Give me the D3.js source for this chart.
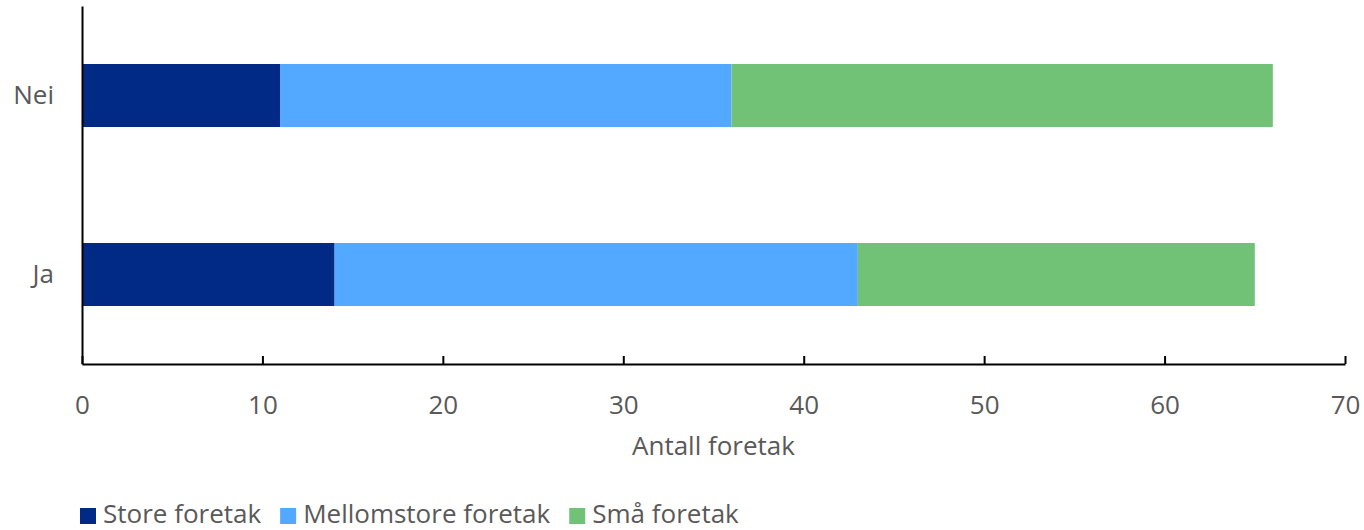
<!DOCTYPE html>
<html>
<head>
<meta charset="utf-8">
<script src="https://cdn.jsdelivr.net/npm/d3@7"></script>
<style>
  body { margin: 0; background: #fff; }
  text { font-family: "Open Sans", sans-serif; }
</style>
</head>
<body>
<svg id="chart"></svg>
<script>
// Data
const categories = ["Nei", "Ja"];
const seriesNames = ["Store foretak", "Mellomstore foretak", "Små foretak"];
const store = [11, 14];
const mellomstore = [25, 29];
const smaa = [30, 22];
const xTicks = [0, 10, 20, 30, 40, 50, 60, 70];
const colors = ["#002a86", "#52a9ff", "#71c277"];

const width = 1364, height = 530;
const margin = { top: 6, right: 19, bottom: 166, left: 82 };
const innerW = width - margin.left - margin.right,
    innerH = height - margin.top - margin.bottom;
const fontSize = "26px";

const svg = d3.select("#chart")
    .attr("width", width)
    .attr("height", height);

const g = svg.append("g")
    .attr("transform", `translate(${margin.left},${margin.top})`);

// Build stacked rows
const rows = categories.map((c, i) => ({
    cat: c,
    "Store foretak": store[i],
    "Mellomstore foretak": mellomstore[i],
    "Små foretak": smaa[i]
}));
const stacked = d3.stack().keys(seriesNames)(rows);

const x = d3.scaleLinear().domain([0, 70]).range([0, innerW]);
const y = d3.scaleBand()
    .domain(categories)
    .range([0, innerH])
    .paddingInner(0.648)
    .paddingOuter(0.324);

// Bars
g.selectAll(".series")
    .data(stacked)
    .enter().append("g")
    .attr("fill", (d, i) => colors[i])
    .selectAll("rect")
    .data(d => d)
    .enter().append("rect")
    .attr("x", d => x(d[0]))
    .attr("y", d => y(d.data.cat))
    .attr("width", d => x(d[1]) - x(d[0]))
    .attr("height", y.bandwidth());

// X axis (ticks pointing up)
const xAxis = g.append("g")
    .attr("transform", `translate(0,${innerH})`)
    .call(d3.axisBottom(x).tickValues(xTicks).tickSize(-8).tickSizeOuter(0));
xAxis.select(".domain").attr("stroke", "#000").attr("stroke-width", 2);
xAxis.selectAll(".tick line").attr("stroke", "#000").attr("stroke-width", 2);
xAxis.selectAll(".tick text")
    .attr("fill", "#595959")
    .style("font-size", fontSize)
    .attr("y", 41)
    .attr("dy", "0.35em");

// Y axis
const yAxis = g.append("g")
    .call(d3.axisLeft(y).tickSize(0).tickPadding(28));
yAxis.select(".domain").attr("stroke", "#000").attr("stroke-width", 2);
yAxis.selectAll(".tick text")
    .attr("fill", "#595959")
    .style("font-size", fontSize);

// Axis title
g.append("text")
    .attr("x", innerW / 2)
    .attr("y", innerH + 82)
    .attr("dy", "0.35em")
    .attr("text-anchor", "middle")
    .attr("fill", "#595959")
    .style("font-size", fontSize)
    .text("Antall foretak");

// Legend
const legend = svg.append("g").attr("transform", "translate(80,514)");
let lx = 0;
seriesNames.forEach((name, i) => {
    const item = legend.append("g").attr("transform", `translate(${lx},0)`);
    item.append("rect")
        .attr("x", 0).attr("y", -6)
        .attr("width", 16).attr("height", 16)
        .attr("fill", colors[i]);
    const t = item.append("text")
        .attr("x", 23).attr("y", 0)
        .attr("dy", "0.35em")
        .attr("fill", "#595959")
        .style("font-size", fontSize)
        .text(name);
    lx += 23 + t.node().getComputedTextLength() + 19;
});
</script>
</body>
</html>
